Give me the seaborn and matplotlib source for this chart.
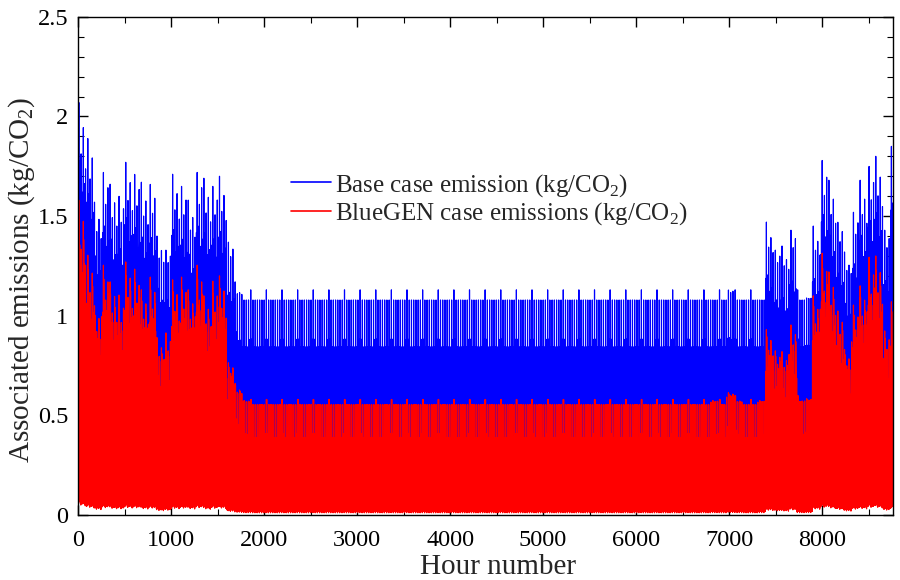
import numpy as np
import pandas as pd
import matplotlib
matplotlib.use('Agg')
import matplotlib.pyplot as plt
from matplotlib.ticker import MultipleLocator
import seaborn as sns

# Peak emissions per half-week (84 h)
# early-year heating season, half-weeks 0..21
base_peak_start = [2.07, 1.94, 1.57, 1.77, 1.66, 1.65, 1.77, 1.76, 1.67, 1.71, 1.40,
                   1.38, 1.71, 1.70, 1.58, 1.77, 1.69, 1.70, 1.70, 1.42, 1.17, 1.13]
bluegen_peak_start = [1.58, 1.33, 1.05, 1.28, 1.17, 1.13, 1.27, 1.26, 1.13, 1.22, 0.89,
                      0.94, 1.18, 1.22, 1.13, 1.28, 1.10, 1.20, 1.20, 0.79, 0.66, 0.60]
# summer, half-weeks 22..79
summer_halfweeks = 58
base_summer_peak = 1.13
bluegen_summer_peak = 0.58
# late-year heating season, half-weeks 80..104
base_peak_end = [1.13, 1.13, 1.13, 1.18, 1.13, 1.13, 1.13, 1.13, 1.47, 1.38, 1.35, 1.48,
                 1.13, 1.14, 1.45, 1.83, 1.68, 1.52, 1.32, 1.57, 1.68, 1.80, 1.80, 1.48, 1.85]
bluegen_peak_end = [0.58, 0.60, 0.58, 0.64, 0.60, 0.58, 0.58, 0.60, 0.93, 0.85, 0.82, 0.98,
                    0.60, 0.61, 1.10, 1.34, 1.22, 1.05, 0.83, 1.08, 1.15, 1.32, 1.30, 0.95, 1.07]

# Shape of a day (fraction of the day's peak), hour 0..23
base_profile = [0.45, 0.78, 0.04, 0.40, 0.78, 0.35, 0.03, 0.60, 0.78, 1.00, 0.78, 0.05,
                0.78, 0.78, 0.78, 0.78, 0.05, 0.78, 0.78, 0.60, 0.40, 0.05, 0.78, 0.50]
bluegen_profile = [0.30, 0.70, 0.03, 0.40, 0.70, 0.30, 0.02, 0.70, 0.70, 1.00, 0.70, 0.04,
                   0.70, 1.00, 0.70, 0.70, 0.04, 0.70, 0.70, 0.50, 0.40, 0.03, 0.70, 0.45]
heat_profile = [0.70, 0.90, 0.05, 0.75, 0.85, 0.70, 0.05, 0.85, 0.95, 1.00, 0.90, 0.05,
                0.85, 0.90, 0.95, 0.85, 0.05, 0.90, 0.95, 0.85, 0.75, 0.05, 0.85, 0.70]

# Day-of-week factors
weekday_factor = [1.0, 0.955, 0.955, 0.955, 0.955, 0.955, 0.955]
heat_day_factor = [1.0, 0.78, 0.92, 0.70, 1.0, 0.75, 0.88]

base_peak = np.array(base_peak_start + [base_summer_peak] * summer_halfweeks + base_peak_end)
bluegen_peak = np.array(bluegen_peak_start + [bluegen_summer_peak] * summer_halfweeks + bluegen_peak_end)

hours = np.arange(8760)
hod = hours % 24
wd = (hours // 24) % 7
hw = hours // 84

base_heat = np.clip(base_peak - base_summer_peak, 0, None)
blue_heat = np.clip(bluegen_peak - bluegen_summer_peak, 0, None)
wf = np.array(weekday_factor)[wd]
hf = np.array(heat_day_factor)[wd]
hp = np.array(heat_profile)[hod]

df = pd.DataFrame({
    'hour': hours,
    'base': np.array(base_profile)[hod] * base_summer_peak * wf + hp * base_heat[hw] * hf,
    'bluegen': np.array(bluegen_profile)[hod] * bluegen_summer_peak * wf + hp * blue_heat[hw] * hf,
})

sns.set_theme(style='ticks')
plt.rcParams['font.family'] = ['Liberation Serif', 'DejaVu Serif']
plt.rcParams['mathtext.fontset'] = 'custom'
plt.rcParams['mathtext.rm'] = 'Liberation Serif'

fig = plt.figure(figsize=(9, 5.8), dpi=100)
ax = fig.add_axes([0.0867, 0.112, 0.9053, 0.859])

sns.lineplot(data=df, x='hour', y='base', color='#0000ff', lw=0.85, ax=ax,
             estimator=None, sort=False, label='Base case emission (kg/CO$_{\\mathregular{2}}$)')
sns.lineplot(data=df, x='hour', y='bluegen', color='#ff0000', lw=0.85, ax=ax,
             estimator=None, sort=False, label='BlueGEN case emissions (kg/CO$_{\\mathregular{2}}$)')

ax.set_xlim(0, 8760)
ax.set_ylim(0, 2.5)
ax.set_xticks(range(0, 9000, 1000))
ax.set_yticks([0, 0.5, 1, 1.5, 2, 2.5])
ax.set_yticklabels(['0', '0.5', '1', '1.5', '2', '2.5'])
ax.xaxis.set_minor_locator(MultipleLocator(500))
ax.yaxis.set_minor_locator(MultipleLocator(0.1))
ax.tick_params(which='both', direction='in', top=True, right=True, labelsize=17.5, colors='black')
ax.tick_params(which='major', length=7, width=1)
ax.tick_params(which='minor', length=4, width=0.8)
ax.tick_params(axis='y', which='both', pad=7)
ax.tick_params(axis='x', which='both', pad=11)
for s in ax.spines.values():
    s.set_color('black')
    s.set_linewidth(1)

ax.set_xlabel('Hour number', fontsize=21)
ax.set_ylabel('Associated emissions (kg/CO$_{\\mathregular{2}}$)', fontsize=21)
ax.xaxis.set_label_coords(0.516, -0.078)
ax.yaxis.set_label_coords(-0.05, 0.472)

leg = ax.legend(loc='upper left', bbox_to_anchor=(0.246, 0.714), frameon=False, fontsize=18,
                handlelength=1.6, handletextpad=0.15, borderpad=0, labelspacing=0.05)
for line in leg.get_lines():
    line.set_linewidth(1.2)

fig.savefig('out.png', dpi=100)
